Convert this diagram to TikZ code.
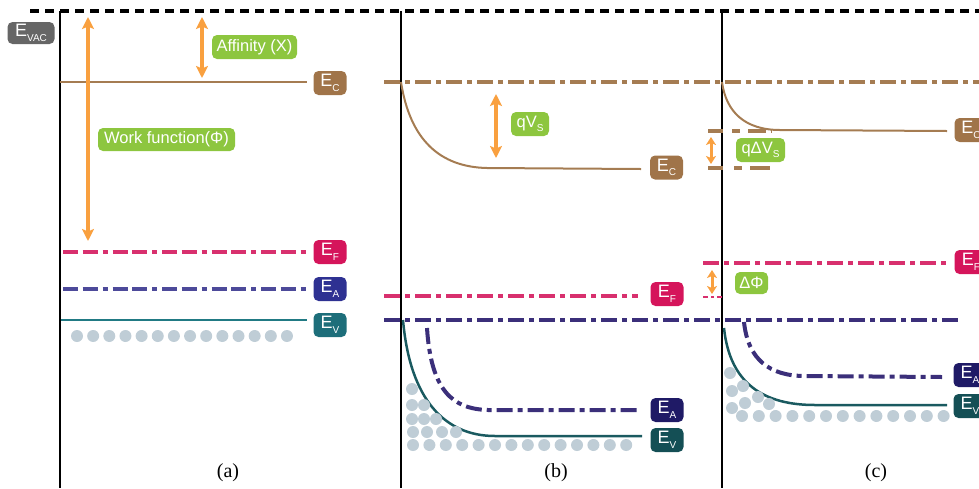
\documentclass[tikz,border=0pt]{standalone}
\usepackage{fontspec}
\setmainfont{Liberation Serif}
\newfontfamily\labfont{Liberation Sans}
\usetikzlibrary{arrows.meta}
\definecolor{brownl}{HTML}{A57C52}
\definecolor{brownb}{HTML}{A07449}
\definecolor{orangea}{HTML}{F9A03F}
\definecolor{greenb}{HTML}{8DC63F}
\definecolor{pinkb}{HTML}{D5155B}
\definecolor{pinkl}{HTML}{D8306E}
\definecolor{navyab}{HTML}{2E3192}
\definecolor{navyal}{HTML}{4D4A9A}
\definecolor{navybb}{HTML}{1F1A66}
\definecolor{navybl}{HTML}{3B2F7A}
\definecolor{tealab}{HTML}{1D6E7A}
\definecolor{tealal}{HTML}{217A84}
\definecolor{tealbb}{HTML}{144F55}
\definecolor{tealbl}{HTML}{1A5A60}
\definecolor{dotc}{HTML}{BFCDD6}
\definecolor{grayb}{HTML}{666666}
\newcommand{\Esub}[1]{E\raisebox{-4.5pt}{\fontsize{10}{10}\selectfont #1}}
\newcommand{\Ssub}[1]{\raisebox{-4.5pt}{\fontsize{10}{10}\selectfont #1}}
\tikzset{
  lab/.style={rounded corners=5pt, fill=#1, text=white, font=\fontsize{18}{18}\selectfont\labfont, minimum width=33pt, minimum height=24pt, inner sep=0pt},
  glab/.style={rounded corners=5pt, fill=greenb, text=white, font=\fontsize{16.5}{16.5}\selectfont\labfont, minimum height=24pt, inner xsep=3pt, inner ysep=0pt},
  vline/.style={line width=2.5pt, black},
  dashdot/.style={line width=4pt, dash pattern=on 15pt off 4.5pt on 15pt off 5pt on 5pt off 5pt},
  dashdotb/.style={line width=4pt, dash pattern=on 16pt off 5pt on 5pt off 5pt},
  oarrow/.style={line width=3.8pt, orangea, {Stealth[length=12pt,width=12pt,inset=2.5pt]}-{Stealth[length=12pt,width=12pt,inset=2.5pt]}},
  sarrow/.style={line width=3pt, orangea, {Stealth[length=8pt,width=10pt,inset=2pt]}-{Stealth[length=8pt,width=10pt,inset=2pt]}},
  dotn/.style={circle, fill=dotc, minimum size=12pt, inner sep=0pt},
  panel/.style={font=\fontsize{20}{20}\selectfont}
}
\begin{document}
\begin{tikzpicture}[x=1pt,y=-1pt]
\useasboundingbox (0,0) rectangle (979,488);
\clip (0,0) rectangle (979,488);
% vacuum level
\coordinate (vacL) at (30,11);
\coordinate (vacR) at (979,11);
\draw[line width=3.5pt, dash pattern=on 9pt off 6pt] (vacL) -- (vacR);
\node[lab=grayb, minimum width=47pt, minimum height=22pt] (evac) at (31,33) {\Esub{VAC}};
% vertical lines
\coordinate (va1) at (60,11); \coordinate (va2) at (60,488);
\coordinate (vb1) at (401,11); \coordinate (vb2) at (401,488);
\coordinate (vc1) at (722,11); \coordinate (vc2) at (722,488);
\draw[vline] (va1) -- (va2);
\draw[vline] (vb1) -- (vb2);
\draw[vline] (vc1) -- (vc2);

% ---------- panel (a)
\node[lab=brownb] (aec) at (330,83) {\Esub{C}};
\node[lab=pinkb] (aef) at (330,252) {\Esub{F}};
\node[lab=navyab] (aea) at (330,289) {\Esub{A}};
\node[lab=tealab] (aev) at (330,325) {\Esub{V}};
\coordinate (aec0) at (60,82);
\coordinate (aef0) at (63,252);
\coordinate (aea0) at (63,289);
\coordinate (aev0) at (61,320);
\draw[brownl, line width=2pt] (aec0) -- (307,82);
\draw[pinkl, dashdot] (aef0) -- (307,252);
\draw[navyal, dashdot] (aea0) -- (307,289);
\draw[tealal, line width=2.5pt] (aev0) -- (307,320);
\foreach \i in {0,...,13} \node[dotn] (ad\i) at (77+16.15*\i,336) {};
\coordinate (wf1) at (88,17); \coordinate (wf2) at (88,241);
\draw[oarrow] (wf1) -- (wf2);
\coordinate (af1) at (202,17); \coordinate (af2) at (202,78);
\draw[oarrow] (af1) -- (af2);
\node[glab, minimum width=85pt] (aff) at (254.5,47) {Affinity (X)};
\node[glab, minimum width=137pt, minimum height=23pt] (wfl) at (166.5,139.5) {Work function(Φ)};

% ---------- panel (b)
\coordinate (bec0) at (384,82);
\draw[brownl, dashdotb, line width=4.5pt] (bec0) -- (979,82);
\coordinate (bcs) at (401,82);
\draw[brownl, line width=2pt] (bcs) .. controls (410,140) and (440,167) .. (487,168) -- (641,169);
\node[lab=brownb] (bec) at (666.5,167.5) {\Esub{C}};
\coordinate (qv1) at (496,94); \coordinate (qv2) at (496,158);
\draw[oarrow] (qv1) -- (qv2);
\node[glab, minimum width=38pt] (qvs) at (530,124) {qV\Ssub{S}};
\coordinate (bef0) at (384,296);
\draw[pinkl, dashdotb] (bef0) -- (638,296);
\node[lab=pinkb] (bef) at (667,294) {\Esub{F}};
\coordinate (bea0) at (384,320);
\draw[navybl, dashdotb] (bea0) -- (960,320);
\coordinate (bas) at (427,328);
\draw[navybl, line width=4pt, dash pattern=on 16pt off 5pt on 5pt off 5pt] (bas) .. controls (431,390) and (452,409) .. (488,410) -- (638,410);
\node[lab=navybb] (bea) at (667,410) {\Esub{A}};
\coordinate (bvs) at (403,320);
\draw[tealbl, line width=2.5pt] (bvs) .. controls (410,400) and (445,436) .. (495,436) -- (642,436);
\node[lab=tealbb] (bev) at (667,440) {\Esub{V}};
\foreach \i in {0,...,13} \node[dotn] (bd\i) at (413+16.4*\i,445) {};
\foreach \p [count=\k] in {{413,432},{427,432},{442,432},{456,432},{412,419},{424,419},{436,419},{412,405},{424,405},{412,389}}
  \node[dotn] (bt\k) at (\p) {};

% ---------- panel (c)
\coordinate (ccs) at (722,82);
\draw[brownl, line width=2pt] (ccs) .. controls (726,112) and (745,130) .. (780,130) -- (947,131);
\node[lab=brownb] (cec) at (971,130) {\Esub{C}};
\coordinate (cd1) at (708,131); \coordinate (cd2) at (708,168);
\draw[brownl, line width=4pt, dash pattern=on 15pt off 9pt on 8pt off 8pt on 18pt off 5pt] (cd1) -- (772,131);
\draw[brownl, line width=4pt, dash pattern=on 15pt off 11pt on 8pt off 8pt on 20pt off 5pt] (cd2) -- (772,168);
\coordinate (dv1) at (711,137); \coordinate (dv2) at (711,164);
\draw[sarrow] (dv1) -- (dv2);
\node[glab, minimum width=49pt] (qdv) at (760.5,150) {qΔV\Ssub{S}};
\coordinate (cef0) at (703,263);
\draw[pinkl, dashdotb] (cef0) -- (948,263);
\node[lab=pinkb] (cef) at (971,262) {\Esub{F}};
\coordinate (cef1) at (703,297);
\draw[pinkl, line width=2pt, dash pattern=on 5pt off 3pt on 3pt off 3pt] (cef1) -- (722,297);
\coordinate (dp1) at (712,270); \coordinate (dp2) at (712,294);
\draw[sarrow] (dp1) -- (dp2);
\node[glab, minimum width=33pt, minimum height=22pt, inner xsep=1pt] (dphi) at (751.5,283) {ΔΦ};
\coordinate (cas) at (744,322);
\draw[navybl, line width=4pt, dash pattern=on 16pt off 5pt on 5pt off 5pt] (cas) .. controls (748,360) and (770,376) .. (805,376) -- (942,377);
\node[lab=navybb] (cea) at (970,375) {\Esub{A}};
\coordinate (cvs) at (724,328);
\draw[tealbl, line width=2.5pt] (cvs) .. controls (730,385) and (765,405) .. (815,405) -- (947,405);
\node[lab=tealbb] (cev) at (970,406) {\Esub{V}};
\foreach \i in {0,...,12} \node[dotn] (cd\i) at (742+16.8*\i,416) {};
\foreach \p [count=\k] in {{732,408},{745,403},{758,397},{769,404},{732,391},{743,386},{730,373}}
  \node[dotn] (ct\k) at (\p) {};

% panel labels
\node[panel] (pa) at (228,473) {(a)};
\node[panel] (pb) at (556,473) {(b)};
\node[panel] (pc) at (876,473) {(c)};
\end{tikzpicture}
\end{document}
